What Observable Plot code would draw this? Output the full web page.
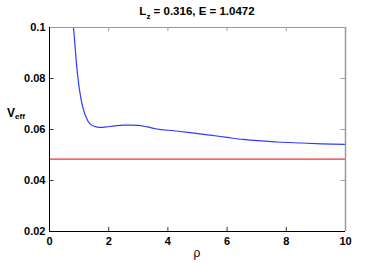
<!DOCTYPE html>
<html>
<head>
<meta charset="utf-8">
<script src="https://cdn.jsdelivr.net/npm/d3@7"></script>
<script src="https://cdn.jsdelivr.net/npm/@observablehq/plot@0.6"></script>
<style>
  html, body { margin: 0; padding: 0; background: #fff; }
  #chart svg { display: block; }
</style>
</head>
<body>
<div id="chart"></div>
<script>
// Data
const rho  = [0.79, 0.81, 0.858, 0.902, 0.959, 1.037, 1.128, 1.24, 1.375, 1.578, 1.75, 1.915, 2.2, 2.5, 2.75, 3.0, 3.3, 3.63, 4.2, 4.75, 5.43, 6.0, 6.54, 7.1, 7.68, 8.5, 9.2, 10];
const veff = [0.1022, 0.1, 0.0935, 0.0869, 0.0804, 0.0738, 0.0686, 0.0647, 0.0621, 0.0610, 0.0608, 0.0610, 0.0614, 0.0617, 0.0617, 0.0616, 0.0610, 0.0602, 0.0595, 0.0588, 0.0578, 0.0569, 0.0561, 0.0556, 0.0551, 0.0547, 0.0544, 0.0542];
const energyLevel = 0.0484;
const xTicks = [0, 2, 4, 6, 8, 10];
const yTicks = [0.02, 0.04, 0.06, 0.08, 0.1];
const titleText = ["L", "z", " = 0.316, E = 1.0472"];
const yLabelText = ["V", "eff"];
const xLabelText = "ρ";

const curve = rho.map((r, i) => ({rho: r, v: veff[i]}));
const font = "'Liberation Sans', Arial, Helvetica, sans-serif";

const plot = Plot.plot({
  width: 382,
  height: 263,
  marginLeft: 49,
  marginRight: 37,
  marginTop: 27,
  marginBottom: 32,
  style: {fontFamily: font, background: "#fff"},
  x: {domain: [0, 10], ticks: xTicks},
  y: {domain: [0.02, 0.1], ticks: yTicks},
  marks: [
    // energy line
    Plot.ruleY([energyLevel], {stroke: "#ff2a2a", strokeWidth: 1.2}),
    // potential curve
    Plot.line(curve, {x: "rho", y: "v", stroke: "#2b3cff", strokeWidth: 1.2, curve: "monotone-x", clip: true}),
    // inward ticks bottom/top
    Plot.ruleX(xTicks, {y1: 0.02, y2: 0.0216, stroke: "#000", strokeWidth: 0.8}),
    Plot.ruleX(xTicks, {y1: 0.1, y2: 0.0984, stroke: "#888", strokeWidth: 0.8}),
    // inward ticks left/right
    Plot.ruleY(yTicks, {x1: 0, x2: 0.15, stroke: "#000", strokeWidth: 0.8}),
    Plot.ruleY(yTicks, {x1: 10, x2: 9.85, stroke: "#888", strokeWidth: 0.8}),
    // box
    Plot.ruleY([0.1], {stroke: "#999", strokeWidth: 1}),
    Plot.ruleX([10], {stroke: "#999", strokeWidth: 1.5}),
    Plot.ruleY([0.02], {stroke: "#000", strokeWidth: 1}),
    Plot.ruleX([0], {stroke: "#000", strokeWidth: 1}),
    // tick labels
    Plot.axisX({ticks: xTicks, tickSize: 0, tickPadding: 6, fontSize: 11, fontWeight: "bold", fill: "#000", tickFormat: d => String(d), label: null}),
    Plot.axisY({ticks: yTicks, tickSize: 0, tickPadding: 4, fontSize: 11, fontWeight: "bold", fill: "#000", tickFormat: d => String(+d.toFixed(2)), label: null})
  ]
});

document.getElementById("chart").appendChild(plot);

// Titles with subscripts (real text)
const svg = d3.select(plot);
svg.selectAll("g[aria-label='x-axis tick label'] text, g[aria-label='y-axis tick label'] text").attr("font-weight", "bold");

const title = svg.append("text")
  .attr("x", 197).attr("y", 15)
  .attr("text-anchor", "middle")
  .attr("font-family", font).attr("font-size", 11.5).attr("font-weight", "bold").attr("fill", "#000");
title.append("tspan").text(titleText[0]);
title.append("tspan").attr("dy", 4).attr("font-size", 8).text(titleText[1]);
title.append("tspan").attr("dy", -4).text(titleText[2]);

const ylab = svg.append("text")
  .attr("x", 7).attr("y", 117)
  .attr("text-anchor", "start")
  .attr("font-family", font).attr("font-size", 12).attr("font-weight", "bold").attr("fill", "#000");
ylab.append("tspan").text(yLabelText[0]);
ylab.append("tspan").attr("dy", 2).attr("font-size", 8).text(yLabelText[1]);

svg.append("text")
  .attr("x", 197).attr("y", 257)
  .attr("text-anchor", "middle")
  .attr("font-family", font).attr("font-size", 12).attr("fill", "#000")
  .text(xLabelText);
</script>
</body>
</html>
